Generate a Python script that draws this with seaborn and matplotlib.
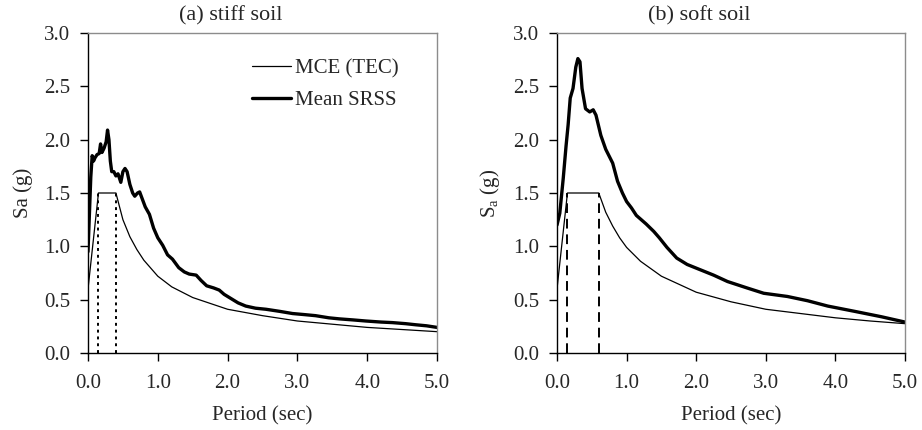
import matplotlib
matplotlib.use("Agg")
import matplotlib.pyplot as plt
import seaborn as sns
import pandas as pd

# --- data ---
# MCE (TEC) design spectrum, stiff soil
mce_stiff_T = [0.0, 0.15, 0.40, 0.50, 0.60, 0.70, 0.80, 1.00, 1.20, 1.50, 2.00, 2.50, 3.00, 3.50, 4.00, 4.50, 5.00]
mce_stiff_sa = [0.60, 1.50, 1.50, 1.25, 1.09, 0.97, 0.87, 0.72, 0.62, 0.52, 0.41, 0.35, 0.30, 0.27, 0.24, 0.22, 0.20]

# Mean SRSS, stiff soil
srss_stiff_T = [0.00, 0.02, 0.04, 0.06, 0.08, 0.10, 0.13, 0.16, 0.18, 0.20, 0.23, 0.26, 0.28, 0.30, 0.32,
                0.34, 0.37, 0.40, 0.43, 0.47, 0.50, 0.53, 0.56, 0.60, 0.64, 0.67, 0.71, 0.74, 0.78, 0.82,
                0.88, 0.94, 1.00, 1.07, 1.14, 1.21, 1.30, 1.38, 1.45, 1.55, 1.62, 1.70, 1.80, 1.88, 1.95,
                2.05, 2.15, 2.26, 2.40, 2.55, 2.75, 2.93, 3.10, 3.26, 3.45, 3.60, 3.80, 3.98, 4.20, 4.36,
                4.55, 4.69, 4.85, 5.00]
srss_stiff_sa = [0.95, 1.30, 1.65, 1.85, 1.80, 1.83, 1.86, 1.87, 1.96, 1.88, 1.92, 1.98, 2.09, 2.00, 1.80,
                 1.70, 1.70, 1.66, 1.68, 1.60, 1.70, 1.73, 1.70, 1.58, 1.50, 1.47, 1.50, 1.51, 1.44, 1.37,
                 1.30, 1.17, 1.08, 1.01, 0.92, 0.88, 0.80, 0.76, 0.74, 0.73, 0.68, 0.63, 0.61, 0.59, 0.55,
                 0.51, 0.47, 0.44, 0.42, 0.41, 0.39, 0.37, 0.36, 0.35, 0.33, 0.32, 0.31, 0.30, 0.29, 0.285,
                 0.275, 0.265, 0.255, 0.24]

# MCE (TEC) design spectrum, soft soil
mce_soft_T = [0.0, 0.15, 0.60, 0.70, 0.80, 0.90, 1.00, 1.20, 1.50, 2.00, 2.50, 3.00, 3.50, 4.00, 4.50, 5.00]
mce_soft_sa = [0.60, 1.50, 1.50, 1.32, 1.19, 1.08, 0.99, 0.86, 0.72, 0.57, 0.48, 0.41, 0.37, 0.33, 0.30, 0.275]

# Mean SRSS, soft soil
srss_soft_T = [0.00, 0.04, 0.09, 0.13, 0.16, 0.19, 0.23, 0.27, 0.30, 0.33, 0.36, 0.41, 0.47, 0.52, 0.56,
               0.63, 0.70, 0.80, 0.87, 0.94, 1.00, 1.07, 1.14, 1.28, 1.39, 1.47, 1.58, 1.72, 1.87, 2.06,
               2.25, 2.45, 2.73, 2.97, 3.31, 3.60, 3.89, 4.28, 4.66, 5.00]
srss_soft_sa = [1.20, 1.31, 1.64, 1.94, 2.14, 2.39, 2.48, 2.68, 2.76, 2.73, 2.48, 2.29, 2.26, 2.28, 2.23,
                2.04, 1.91, 1.78, 1.61, 1.50, 1.42, 1.36, 1.29, 1.21, 1.14, 1.08, 0.99, 0.89, 0.83, 0.78,
                0.73, 0.67, 0.61, 0.56, 0.53, 0.49, 0.44, 0.39, 0.34, 0.29]

# corner periods TA, TB and plateau of the code spectrum
corners_stiff = [0.15, 0.40]
corners_soft = [0.15, 0.60]
plateau = 1.5

x_ticks = [0.0, 1.0, 2.0, 3.0, 4.0, 5.0]
y_ticks = [0.0, 0.5, 1.0, 1.5, 2.0, 2.5, 3.0]

sns.set_style("ticks")
plt.rcParams['font.family'] = ['Liberation Serif', 'DejaVu Serif']
plt.rcParams['mathtext.fontset'] = 'custom'
plt.rcParams['mathtext.rm'] = 'Liberation Serif'
plt.rcParams['mathtext.it'] = 'Liberation Serif:italic'

fig = plt.figure(figsize=(9.22, 4.30), dpi=100)
ax1 = fig.add_axes([88 / 922, 77 / 430, 349 / 922, 320 / 430])
ax2 = fig.add_axes([557 / 922, 77 / 430, 348 / 922, 320 / 430])

panels = [
    (ax1, mce_stiff_T, mce_stiff_sa, srss_stiff_T, srss_stiff_sa, corners_stiff, (0, (1.5, 2.0)),
     '(a) stiff soil', 'Sa (g)'),
    (ax2, mce_soft_T, mce_soft_sa, srss_soft_T, srss_soft_sa, corners_soft, (0, (5, 3)),
     '(b) soft soil', r'S$_\mathregular{a}$ (g)'),
]

for ax, mT, msa, sT, ssa, corners, vstyle, title, ylab in panels:
    mce = pd.DataFrame({'T': mT, 'Sa': msa})
    srss = pd.DataFrame({'T': sT, 'Sa': ssa})
    ax.vlines(corners, 0, plateau, colors='black', linestyles=[vstyle], linewidth=1.4)
    sns.lineplot(data=mce, x='T', y='Sa', ax=ax, color='black', linewidth=0.9,
                 label='MCE (TEC)', sort=False)
    sns.lineplot(data=srss, x='T', y='Sa', ax=ax, color='black', linewidth=2.4,
                 label='Mean SRSS', sort=False)

    ax.set_xlim(0, 5)
    ax.set_ylim(0, 3)
    ax.set_xticks(x_ticks)
    ax.set_xticklabels([f'{v:.1f}' for v in x_ticks])
    ax.set_yticks(y_ticks)
    ax.set_yticklabels([f'{v:.1f}' for v in y_ticks])
    ax.tick_params(axis='x', direction='out', length=6, width=1, color='black',
                   labelsize=15, pad=9)
    ax.tick_params(axis='y', direction='out', length=6, width=1, color='black',
                   labelsize=15, pad=7)
    ax.set_xlabel('Period (sec)', fontsize=15, labelpad=10)
    ax.set_ylabel(ylab, fontsize=15, labelpad=8)
    ax.set_title(title, fontsize=16, x=0.41, pad=9)

    for side in ['left', 'bottom']:
        ax.spines[side].set_color('black')
        ax.spines[side].set_linewidth(1.0)
    for side in ['top', 'right']:
        ax.spines[side].set_visible(True)
        ax.spines[side].set_color('#8c8c8c')
        ax.spines[side].set_linewidth(1.0)

ax2.get_legend().remove()
ax1.legend(loc='upper left', bbox_to_anchor=(0.47, 0.92), frameon=False, fontsize=15,
           handlelength=1.85, handletextpad=0.2, labelspacing=0.6, borderpad=0,
           borderaxespad=0)

plt.savefig('out.png', dpi=100)
